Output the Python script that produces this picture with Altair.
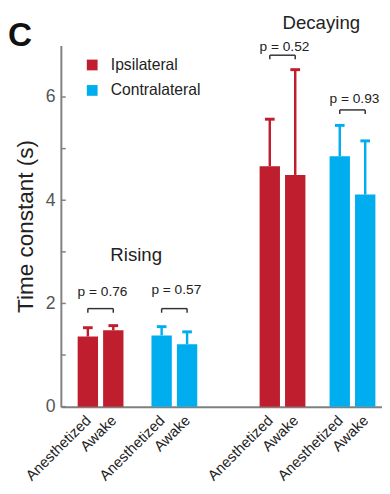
import altair as alt
import pandas as pd

# ---- data ----
hemisphere = ["Ipsilateral", "Ipsilateral", "Contralateral", "Contralateral"] * 2
state = ["Anesthetized", "Awake"] * 4
slot = [0, 1, 2.9, 3.9, 7.15, 8.15, 9.9, 10.9]          # bar slot along x
mean_tc = [1.36, 1.48, 1.38, 1.21, 4.66, 4.49, 4.85, 4.11]
err_top = [1.53, 1.57, 1.55, 1.45, 5.57, 6.53, 5.45, 5.15]

br_left = [0, 2.9, 7.15, 9.9]
br_right = [1, 3.9, 8.15, 10.9]
p_text = ["p = 0.76", "p = 0.57", "p = 0.52", "p = 0.93"]
br_y = [1.90, 1.90, 6.81, 5.75]
p_y = [2.14, 2.18, 6.89, 5.88]

group_names = ["Rising", "Decaying"]
group_y = [2.83, 7.32]

y_ticks = [0, 1, 2, 3, 4, 5, 6]
y_labels = [0, 2, 4, 6]

RED = "#be1e2d"
BLUE = "#00aeef"
FONT = "Liberation Sans"

BW = 0.4   # half bar width in slot units
CW = 0.19  # half cap width

df = pd.DataFrame({"hemi": hemisphere, "state": state, "pos": slot,
                   "mean": mean_tc, "err": err_top})
df["zero"] = 0.0
df["x0"] = df["pos"] - BW
df["x1"] = df["pos"] + BW
df["c0"] = df["pos"] - CW
df["c1"] = df["pos"] + CW

br = pd.DataFrame({"a": br_left, "b": br_right, "y": br_y, "ty": p_y, "t": p_text})
br["mid"] = (br["a"] + br["b"]) / 2
br_ends = pd.DataFrame({"x": br_left + br_right, "y": br_y + br_y})
br_ends["yd"] = br_ends["y"] - 0.08

gt = pd.DataFrame({"name": group_names,
                   "x": [sum(slot[0:4]) / 4 - 0.05, sum(slot[4:8]) / 4 + 0.15],
                   "y": group_y})

xscale = alt.Scale(domain=[-1.06, 11.56], nice=False, zero=False)
yscale = alt.Scale(domain=[0, 7], nice=False)
cscale = alt.Scale(domain=["Ipsilateral", "Contralateral"], range=[RED, BLUE])

label_expr = "[" + ",".join("'%s'" % s for s in state) + "][indexof([" + \
    ",".join(str(p) for p in slot) + "], datum.value)]"

XAX = alt.Axis(values=slot, labelExpr=label_expr, labelAngle=-45,
               labelAlign="right", labelBaseline="middle",
               labelOverlap=False, labelBound=False,
               title=None, ticks=False, grid=False,
               domainColor="#808080", domainWidth=2,
               labelFont=FONT, labelFontSize=15, labelColor="#222222",
               labelPadding=11)
YAX = alt.Axis(values=y_labels, title="Time constant (s)", ticks=False,
               grid=False, domainColor="#808080", domainWidth=2,
               labelFont=FONT, labelFontSize=18, labelColor="#555555",
               labelPadding=6, titleFont=FONT, titleFontSize=23,
               titleFontWeight="normal", titleColor="#222222",
               titlePadding=8)

base = alt.Chart(df)

bars = base.mark_bar().encode(
    x=alt.X("x0:Q", scale=xscale, axis=XAX),
    x2="x1:Q",
    y=alt.Y("mean:Q", scale=yscale, axis=YAX),
    y2="zero:Q",
    color=alt.Color("hemi:N", scale=cscale,
                    legend=alt.Legend(title=None, orient="none", legendX=24, legendY=12,
                                      symbolType="square", symbolSize=121,
                                      symbolStrokeWidth=0, labelFont=FONT,
                                      labelFontSize=16, labelColor="#222222",
                                      labelOffset=11, rowPadding=10)),
)

stems = base.mark_rule(strokeWidth=2.5).encode(
    x=alt.X("pos:Q", scale=xscale, axis=XAX),
    y=alt.Y("mean:Q", scale=yscale, axis=YAX),
    y2="err:Q",
    color=alt.Color("hemi:N", scale=cscale, legend=None),
)

caps = base.mark_rule(strokeWidth=3).encode(
    x=alt.X("c0:Q", scale=xscale, axis=XAX),
    x2="c1:Q",
    y=alt.Y("err:Q", scale=yscale, axis=YAX),
    color=alt.Color("hemi:N", scale=cscale, legend=None),
)

br_h = alt.Chart(br).mark_rule(color="#333333", strokeWidth=1.5).encode(
    x=alt.X("a:Q", scale=xscale, axis=XAX), x2="b:Q",
    y=alt.Y("y:Q", scale=yscale, axis=YAX),
)
br_v = alt.Chart(br_ends).mark_rule(color="#333333", strokeWidth=1.5).encode(
    x=alt.X("x:Q", scale=xscale, axis=XAX),
    y=alt.Y("y:Q", scale=yscale, axis=YAX), y2="yd:Q",
)
p_lab = alt.Chart(br).mark_text(font=FONT, fontSize=14, color="#222222",
                                align="center", baseline="alphabetic", dx=2).encode(
    x=alt.X("mid:Q", scale=xscale, axis=XAX),
    y=alt.Y("ty:Q", scale=yscale, axis=YAX),
    text="t:N",
)
g_lab = alt.Chart(gt).mark_text(font=FONT, fontSize=19, color="#222222",
                                align="center", baseline="alphabetic").encode(
    x=alt.X("x:Q", scale=xscale, axis=XAX),
    y=alt.Y("y:Q", scale=yscale, axis=YAX),
    text="name:N",
)
yt = alt.Chart(pd.DataFrame({"t": y_ticks})).mark_rule(color="#808080", strokeWidth=1.5).encode(
    y=alt.Y("t:Q", scale=yscale, axis=YAX),
    x=alt.value(0), x2=alt.value(5),
)
panel = alt.Chart(pd.DataFrame({"t": ["C"]})).mark_text(
    font=FONT, fontSize=34, fontWeight="bold", color="#111111",
    align="left", baseline="alphabetic").encode(
    text="t:N", x=alt.value(-54), y=alt.value(1))

chart = alt.layer(bars, stems, caps, br_h, br_v, p_lab, g_lab, yt, panel).properties(
    width=328, height=369,
    autosize=alt.AutoSizeParams(type="none"),
    padding={"left": 54, "top": 33, "right": 0, "bottom": 84},
).configure_view(stroke=None)

chart.save("out.html", embed_options={"renderer": "svg", "actions": False})
